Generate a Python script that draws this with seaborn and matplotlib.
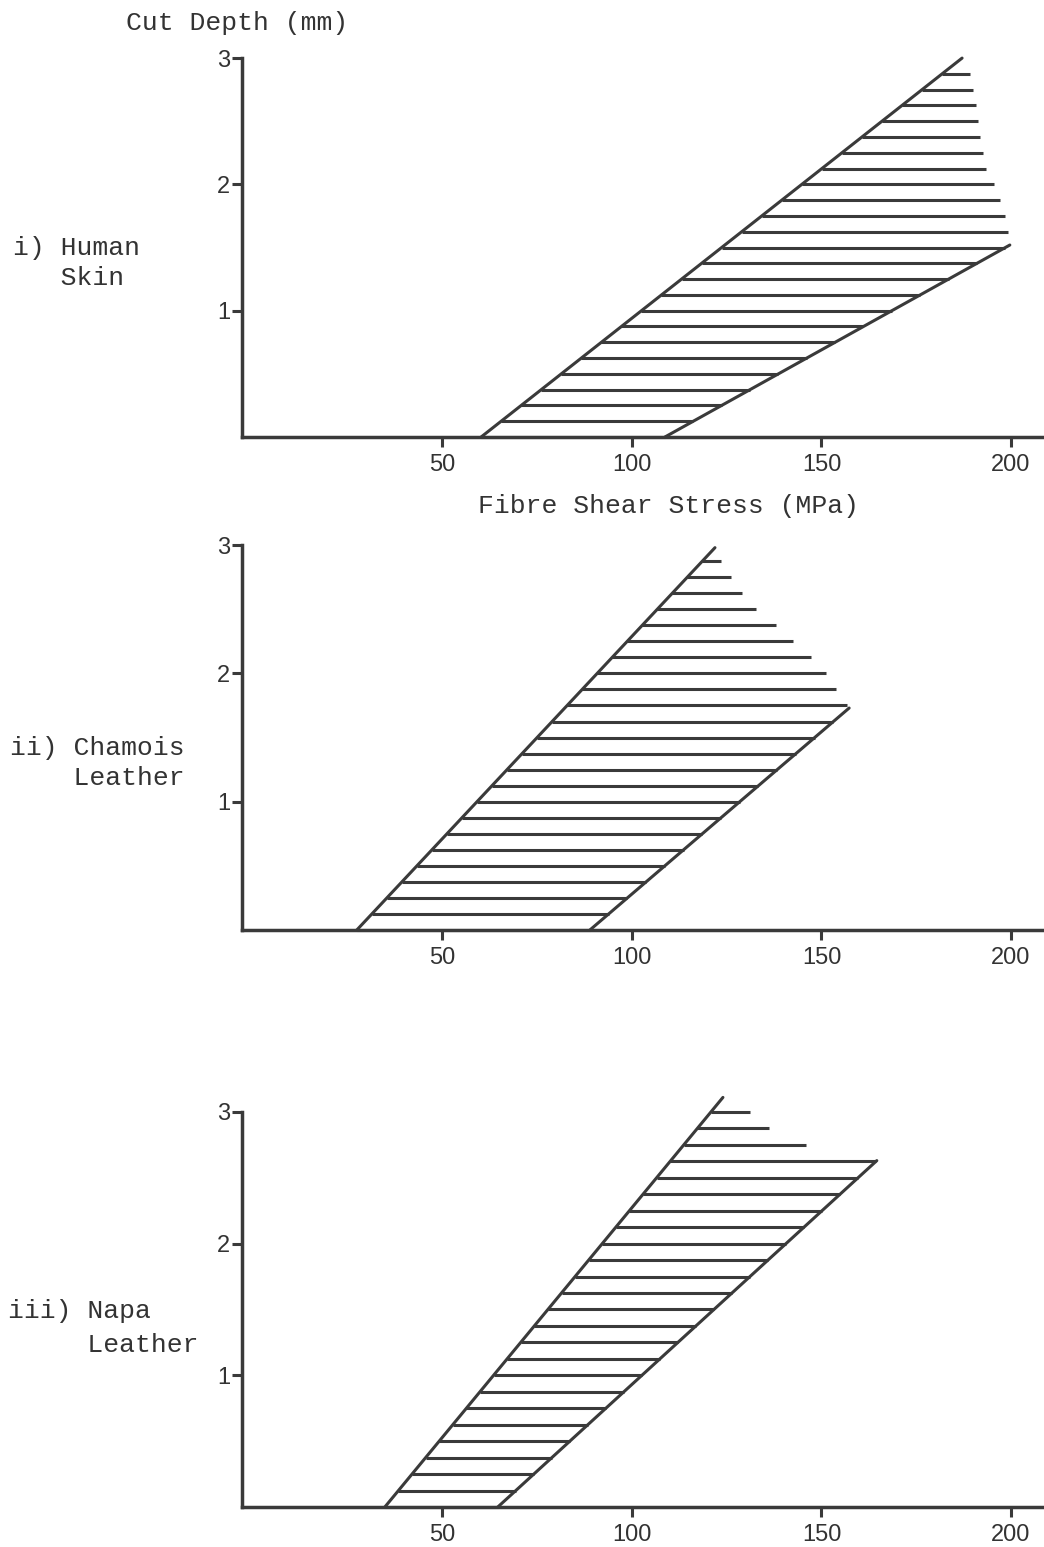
import matplotlib
matplotlib.use("Agg")
import matplotlib.pyplot as plt
import seaborn as sns
import numpy as np

sns.set_style("ticks")
plt.rcParams['font.family'] = ['Liberation Sans', 'DejaVu Sans']

# band boundaries: stress (MPa) vs cut depth (mm)
human_left_x = [60.2, 187.1]
human_left_y = [0.0, 3.0]
human_right_x = [108.7, 199.7, 199.2, 198.2, 196.8, 195.0, 193.1, 191.6, 190.5, 188.9, 187.1]
human_right_y = [0.0, 1.52, 1.65, 1.78, 1.91, 2.03, 2.15, 2.41, 2.66, 2.91, 3.0]

chamois_left_x = [27.4, 121.9]
chamois_left_y = [0.0, 2.98]
chamois_right_x = [88.9, 157.3, 154.4, 152.0, 148.3, 143.8, 139.1, 133.8, 129.6, 126.9, 124.0, 121.9]
chamois_right_y = [0.0, 1.73, 1.85, 1.97, 2.10, 2.21, 2.35, 2.47, 2.60, 2.72, 2.85, 2.98]

napa_left_x = [34.8, 124.0]
napa_left_y = [0.0, 3.11]
napa_right_x = [64.6, 164.6, 158.8, 139.3, 134.6, 129.3, 124.0]
napa_right_y = [0.0, 2.63, 2.67, 2.79, 2.92, 3.04, 3.11]

x_ticks = [50, 100, 150, 200]
y_ticks = [1, 2, 3]
panel_names = [["i) Human", "   Skin"], ["ii) Chamois", "    Leather"], ["iii) Napa", "     Leather"]]

hatch_step = 0.125
ink = '#3a3a3a'
W, H = 1044, 1547

fig = plt.figure(figsize=(W / 100, H / 100), dpi=100)


def px(x, y):
    # pixel position (from top-left) -> figure fraction
    return x / W, 1 - y / H


def draw_band(ax, lx, ly, rx, ry):
    levels = np.arange(0, ly[-1], hatch_step)
    left = np.interp(levels, ly, lx)
    right = np.interp(levels, ry, rx)
    ax.hlines(levels, left, right, color=ink, lw=2.2, clip_on=False)
    sns.lineplot(x=lx, y=ly, ax=ax, color=ink, lw=2.2, sort=False, estimator=None)
    sns.lineplot(x=rx[:2], y=ry[:2], ax=ax, color=ink, lw=2.2, sort=False, estimator=None)


# axes: y=0 pixel row and pixels per mm for each panel
panels = [(437, 126.3, human_left_x, human_left_y, human_right_x, human_right_y),
          (930, 128.3, chamois_left_x, chamois_left_y, chamois_right_x, chamois_right_y),
          (1507, 131.7, napa_left_x, napa_left_y, napa_right_x, napa_right_y)]

xmin, xmax, ymax = -3, 208.5, 3.2
for p0, s, lx, ly, rx, ry in panels:
    ax = fig.add_axes([241.6 / W, 1 - p0 / H, (xmax - xmin) * 3.79 / W, ymax * s / H])
    draw_band(ax, lx, ly, rx, ry)
    ax.set_xlim(xmin, xmax)
    ax.set_ylim(0, ymax)
    ax.set_xticks(x_ticks)
    ax.set_yticks(y_ticks)
    ax.set_xlabel('')
    ax.set_ylabel('')
    sns.despine(ax=ax)
    ax.spines['left'].set_bounds(0, 3)
    for sp in ['left', 'bottom']:
        ax.spines[sp].set_linewidth(2.5)
        ax.spines[sp].set_color(ink)
    ax.tick_params(axis='both', direction='out', length=7, width=2.2, color=ink,
                   labelsize=17, labelcolor='#333333')
    ax.tick_params(axis='x', pad=5)
    ax.tick_params(axis='y', pad=1)
    ax.patch.set_alpha(0)

mono = dict(family='Liberation Mono', fontsize=19, color='#333333', va='baseline')
fig.text(*px(126, 30), 'Cut Depth (mm)', **mono)
fig.text(*px(478, 513), 'Fibre Shear Stress (MPa)', **mono)

label_pos = [(13, 255, 285), (10, 755, 785), (8, 1318, 1352)]
for (x0, y1, y2), lines in zip(label_pos, panel_names):
    fig.text(*px(x0, y1), lines[0], **mono)
    fig.text(*px(x0, y2), lines[1], **mono)

plt.savefig('out.png', dpi=100)
